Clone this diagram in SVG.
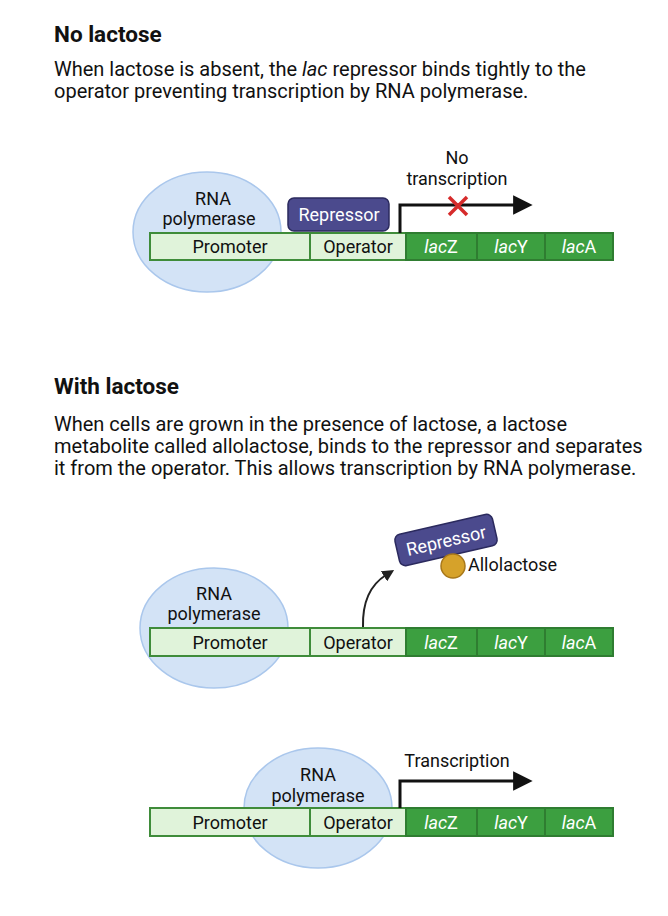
<svg xmlns="http://www.w3.org/2000/svg" width="668" height="916" viewBox="0 0 668 916">
<defs>
<style>
text{font-family:Roboto,"Liberation Sans",Arial,sans-serif;fill:#111}
.h{font-size:22.5px;font-weight:bold}
.b{font-size:20px}
.rna{fill:#d3e3f6;stroke:#aac7ec;stroke-width:1.5}
.lt{fill:#e0f3da;stroke:#3f8c3a;stroke-width:2}
.dk{fill:#3c9f40;stroke:#2f7d31;stroke-width:2}
.lbl{font-size:18px;text-anchor:middle}
.gl{font-size:18px;text-anchor:middle;fill:#fff;font-style:italic}
.rep{fill:#4b4a8d;stroke:#2b2a5e;stroke-width:1.5}
.rt{font-size:18px;fill:#fff;text-anchor:middle}
.pol{font-size:18px;text-anchor:middle}
.arr{fill:none;stroke:#111;stroke-width:3}
</style>
<marker id="ah" viewBox="0 0 10 10" refX="2" refY="5" markerWidth="6.5" markerHeight="6.5" markerUnits="strokeWidth" orient="auto"><path d="M0,0 L10,5 L0,10 z" fill="#111"/></marker>
<marker id="ah2" viewBox="0 0 10 10" refX="2" refY="5" markerWidth="6" markerHeight="6" markerUnits="strokeWidth" orient="auto"><path d="M0,0 L10,5 L0,10 z" fill="#222"/></marker>
</defs>
<rect width="668" height="916" fill="#fff"/>

<g id="text1">
<text class="h" x="54" y="42">No lactose</text>
<text class="b" x="54" y="76">When lactose is absent, the <tspan font-style="italic">lac</tspan> repressor binds tightly to the</text>
<text class="b" x="54" y="98">operator preventing transcription by RNA polymerase.</text>
</g>

<g id="polymerase1">
<ellipse class="rna" cx="207" cy="232" rx="74" ry="60"/>
<text class="pol" x="213" y="205">RNA</text>
<text class="pol" x="209" y="225">polymerase</text>
</g>
<g id="dna1">
<rect class="lt" x="150" y="233" width="160" height="27"/>
<rect class="lt" x="310" y="233" width="96" height="27"/>
<rect class="dk" x="406" y="233" width="71" height="27"/>
<rect class="dk" x="477" y="233" width="68" height="27"/>
<rect class="dk" x="545" y="233" width="68" height="27"/>
<text class="lbl" x="230" y="253">Promoter</text>
<text class="lbl" x="358" y="253">Operator</text>
<text class="gl" x="441" y="253">lac<tspan font-style="normal">Z</tspan></text>
<text class="gl" x="511" y="253">lac<tspan font-style="normal">Y</tspan></text>
<text class="gl" x="579" y="253">lac<tspan font-style="normal">A</tspan></text>
</g>
<g id="repressor1">
<rect class="rep" x="288" y="198" width="101" height="33" rx="6"/>
<text class="rt" x="339" y="221">Repressor</text>
</g>
<g id="connectors1">
<path class="arr" d="M400,233 V205 H517" marker-end="url(#ah)"/>
<path d="M449,197 L467,215 M467,197 L449,215" stroke="#d62b2b" stroke-width="3.5" fill="none"/>
<text class="lbl" x="457" y="164">No</text>
<text class="lbl" x="457" y="185">transcription</text>
</g>

<g id="text2">
<text class="h" x="54" y="394">With lactose</text>
<text class="b" x="54" y="431">When cells are grown in the presence of lactose, a lactose</text>
<text class="b" x="54" y="453">metabolite called allolactose, binds to the repressor and separates</text>
<text class="b" x="54" y="475">it from the operator. This allows transcription by RNA polymerase.</text>
</g>

<g id="polymerase2">
<ellipse class="rna" cx="214" cy="628" rx="74" ry="60"/>
<text class="pol" x="214" y="600">RNA</text>
<text class="pol" x="214" y="620">polymerase</text>
</g>
<g id="dna2">
<rect class="lt" x="150" y="628" width="160" height="28"/>
<rect class="lt" x="310" y="628" width="96" height="28"/>
<rect class="dk" x="406" y="628" width="71" height="28"/>
<rect class="dk" x="477" y="628" width="68" height="28"/>
<rect class="dk" x="545" y="628" width="68" height="28"/>
<text class="lbl" x="230" y="649">Promoter</text>
<text class="lbl" x="358" y="649">Operator</text>
<text class="gl" x="441" y="649">lac<tspan font-style="normal">Z</tspan></text>
<text class="gl" x="511" y="649">lac<tspan font-style="normal">Y</tspan></text>
<text class="gl" x="579" y="649">lac<tspan font-style="normal">A</tspan></text>
</g>
<g id="repressor2">
<g transform="rotate(-13 446 540)">
<rect class="rep" x="396" y="524" width="100" height="32" rx="6"/>
<text class="rt" x="446" y="547">Repressor</text>
</g>
</g>
<g id="allolactose">
<circle cx="453" cy="566" r="12" fill="#d6a22a" stroke="#a8781a" stroke-width="1.5"/>
<text x="468" y="571" font-size="18">Allolactose</text>
</g>
<g id="connectors2">
<path d="M363,627 Q362,590 386,575" fill="none" stroke="#222" stroke-width="2" marker-end="url(#ah2)"/>
</g>

<g id="polymerase3">
<ellipse class="rna" cx="318" cy="808" rx="74" ry="60"/>
<text class="pol" x="318" y="781">RNA</text>
<text class="pol" x="318" y="802">polymerase</text>
</g>
<g id="dna3">
<rect class="lt" x="150" y="808" width="160" height="28"/>
<rect class="lt" x="310" y="808" width="96" height="28"/>
<rect class="dk" x="406" y="808" width="71" height="28"/>
<rect class="dk" x="477" y="808" width="68" height="28"/>
<rect class="dk" x="545" y="808" width="68" height="28"/>
<text class="lbl" x="230" y="829">Promoter</text>
<text class="lbl" x="358" y="829">Operator</text>
<text class="gl" x="441" y="829">lac<tspan font-style="normal">Z</tspan></text>
<text class="gl" x="511" y="829">lac<tspan font-style="normal">Y</tspan></text>
<text class="gl" x="579" y="829">lac<tspan font-style="normal">A</tspan></text>
</g>
<g id="connectors3">
<path class="arr" d="M400,808 V781 H517" marker-end="url(#ah)"/>
<text class="lbl" x="457" y="767">Transcription</text>
</g>
</svg>
